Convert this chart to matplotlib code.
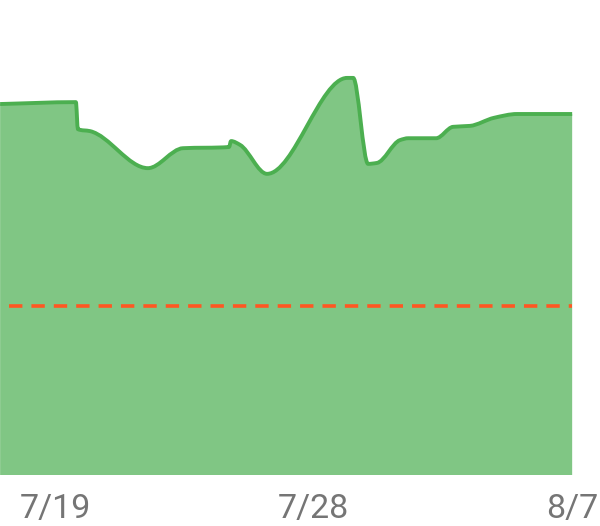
import numpy as np
import matplotlib
matplotlib.use("Agg")
import matplotlib.pyplot as plt
from matplotlib.path import Path
from matplotlib.patches import PathPatch

# readings (x: days from 7/19, y: value)
days = [-1.93, 0.71, 0.78, 1.20, 3.22, 4.44, 6.045, 6.115, 6.43, 7.37,
        10.16, 10.37, 10.89, 11.20, 12.0, 12.29, 13.26, 13.85, 14.44,
        15.28, 16.08, 18.0]
values = [78.1, 78.5, 72.8, 72.4, 64.6, 68.8, 69.05, 70.3, 69.5, 63.4,
          83.6, 83.6, 65.5, 65.7, 70.5, 70.9, 70.9, 73.3, 73.5,
          75.2, 76.0, 76.0]
target = 35.6
tick_pos = [0, 9, 18]
tick_labels = ["7/19", "7/28", "8/7"]


def monotone_path(x, y):
    # cubic bezier through the points, monotone tangents
    x = np.asarray(x, float)
    y = np.asarray(y, float)
    h = np.diff(x)
    d = np.diff(y) / h
    m = np.zeros_like(y)
    m[0], m[-1] = d[0], d[-1]
    for i in range(1, len(x) - 1):
        if d[i - 1] * d[i] > 0:
            m[i] = 3 * (h[i - 1] + h[i]) / ((2 * h[i] + h[i - 1]) / d[i - 1] + (h[i] + 2 * h[i - 1]) / d[i])
    verts = [(x[0], y[0])]
    codes = [Path.MOVETO]
    for i in range(len(x) - 1):
        t = h[i] / 3
        verts += [(x[i] + t, y[i] + m[i] * t), (x[i + 1] - t, y[i + 1] - m[i + 1] * t), (x[i + 1], y[i + 1])]
        codes += [Path.CURVE4] * 3
    return verts, codes


fig = plt.figure(figsize=(6, 5.26), dpi=100)
ax = fig.add_axes([0, 1 - 475 / 526, 1, 475 / 526])

verts, codes = monotone_path(days, values)
fill_verts = verts + [(days[-1], 0), (days[0], 0), (days[0], values[0])]
fill_codes = codes + [Path.LINETO, Path.LINETO, Path.CLOSEPOLY]
ax.add_patch(PathPatch(Path(fill_verts, fill_codes), facecolor="#80c684", edgecolor="none", zorder=1))
ax.add_patch(PathPatch(Path(verts, codes), facecolor="none", edgecolor="#4caf50", lw=2.8,
                       joinstyle="round", zorder=3))

ax.plot([days[0], days[-1]], [target, target], color="#ff5722", lw=2.6,
        linestyle=(3.7, (3.7, 2.5)), zorder=2)

ax.set_xlim(-1.934, 18.97)
ax.set_ylim(0, 100)
ax.set_xticks(tick_pos)
ax.set_xticklabels(tick_labels, fontsize=24.5, color="#757575", family="Roboto")
ax.tick_params(axis="x", length=0, pad=13)
ax.set_yticks([])
for s in ax.spines.values():
    s.set_visible(False)

fig.savefig("out.png", dpi=100)
